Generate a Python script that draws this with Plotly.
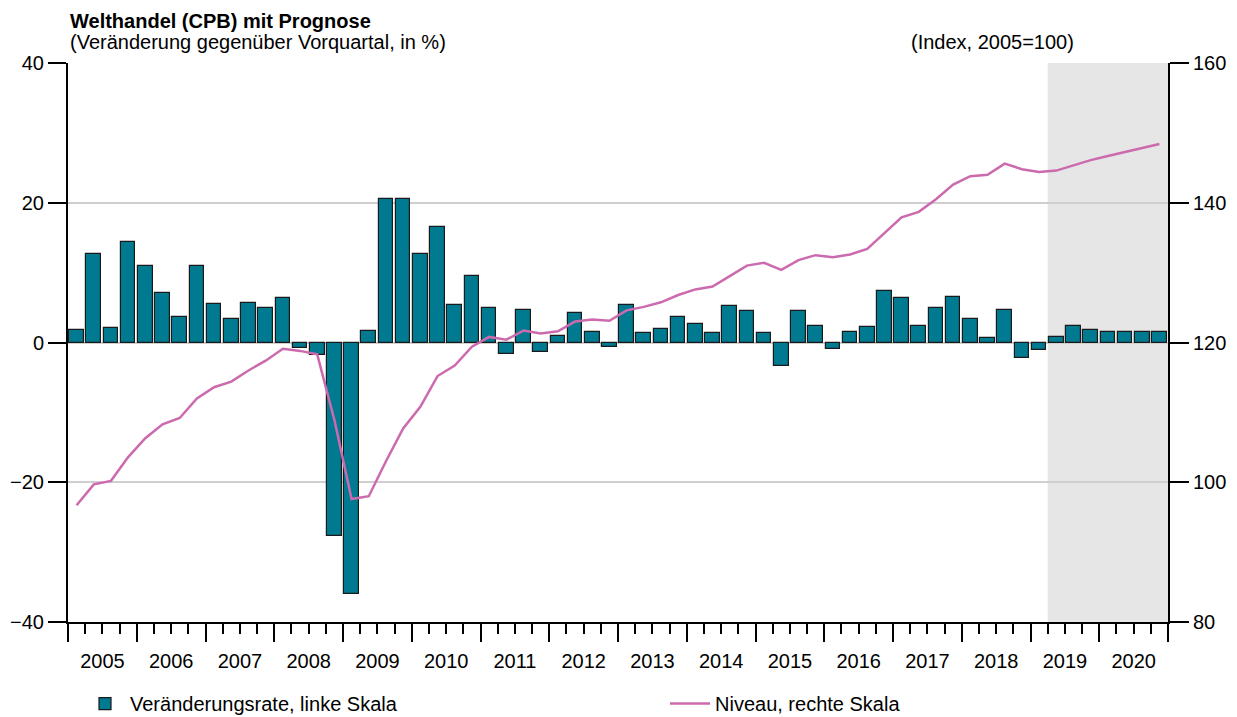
import plotly.graph_objects as go

years = list(range(2005, 2021))
quarters = [f"{y}Q{q}" for y in years for q in range(1, 5)]
forecast_start = "2019Q2"

change_rate = [1.8, 12.7, 2.1, 14.4, 11.0, 7.1, 3.7, 11.0, 5.5, 3.3, 5.6, 4.9,
               6.3, -0.8, -1.8, -27.7, -36.0, 1.7, 20.6, 20.6, 12.7, 16.5, 5.4, 9.5,
               5.0, -1.7, 4.6, -1.3, 1.0, 4.2, 1.5, -0.7, 5.3, 1.4, 2.0, 3.6,
               2.6, 1.3, 5.2, 4.5, 1.35, -3.4, 4.45, 2.4, -0.9, 1.45, 2.25, 7.35,
               6.4, 2.4, 5.0, 6.45, 3.4, 0.7, 4.6, -2.2, -1.1, 0.8, 2.3, 1.8,
               1.55, 1.55, 1.55, 1.55]

level = [96.7, 99.7, 100.2, 103.6, 106.3, 108.3, 109.2, 112.0, 113.6, 114.4, 116.0, 117.4,
         119.1, 118.8, 118.3, 108.9, 97.6, 98.0, 103.0, 107.7, 110.8, 115.2, 116.7, 119.4,
         120.8, 120.4, 121.7, 121.3, 121.6, 123.0, 123.3, 123.1, 124.6, 125.1, 125.75, 126.8,
         127.6, 128.0, 129.5, 131.0, 131.4, 130.4, 131.8, 132.5, 132.2, 132.6, 133.4, 135.6,
         137.9, 138.7, 140.5, 142.6, 143.8, 144.0, 145.6, 144.8, 144.4, 144.6, 145.4, 146.1,
         146.7, 147.3, 147.8, 148.4]

left_ticks = [-40, -20, 0, 20, 40]
right_ticks = [80, 100, 120, 140, 160]

xs = list(range(len(quarters)))
FONT = "Liberation Sans, Arial, Helvetica, sans-serif"
BAR = "#007A90"
LINE = "#CC6AAE"

fig = go.Figure()
fig.add_trace(go.Bar(
    x=xs, y=change_rate, name="Veränderungsrate, linke Skala",
    marker=dict(color=BAR, line=dict(color="#1a1a1a", width=1.2)),
    width=0.85, legend="legend",
))
fig.add_trace(go.Scatter(
    x=xs, y=level, yaxis="y2", mode="lines", name="Niveau, rechte Skala",
    line=dict(color=LINE, width=2.5), legend="legend2",
))
# helper trace so the overlay axis with the year-boundary ticks is drawn
fig.add_trace(go.Scatter(x=[None], y=[None], xaxis="x2", showlegend=False, hoverinfo="skip"))

fs = quarters.index(forecast_start)
fig.add_shape(type="rect", xref="x", yref="paper", x0=fs - 0.5, x1=len(quarters) - 0.5,
              y0=0, y1=1, fillcolor="#E6E6E6", line=dict(width=0), layer="below")

year_centers = [4 * i + 1.5 for i in range(len(years))]
year_bounds = [4 * i - 0.5 for i in range(len(years) + 1)]
quarter_bounds = [i - 0.5 for i in range(len(quarters) + 1)]

# the page body adds an 8px offset, so the figure is sized to fit inside the window
fig.update_layout(
    width=1229, height=709,
    margin=dict(l=60, r=69, t=55, b=95, autoexpand=False),
    paper_bgcolor="white", plot_bgcolor="white",
    font=dict(family=FONT, size=20, color="black"),
    bargap=0,
    xaxis=dict(
        range=[-0.5, len(quarters) - 0.5],
        tickmode="array", tickvals=year_centers, ticktext=[str(y) for y in years],
        ticks="", showgrid=False, zeroline=False, tickangle=0,
        showline=True, linecolor="black", linewidth=2,
        ticklabelstandoff=20, automargin=False,
        minor=dict(tickmode="array", tickvals=quarter_bounds, ticks="outside",
                   ticklen=10, tickwidth=1.5, tickcolor="black", showgrid=False),
        tickfont=dict(size=20),
    ),
    xaxis2=dict(
        overlaying="x", anchor="y", side="bottom",
        range=[-0.5, len(quarters) - 0.5],
        tickmode="array", tickvals=year_bounds, ticks="outside",
        ticklen=19, tickwidth=2, tickcolor="black", automargin=False,
        showticklabels=False, showgrid=False, zeroline=False, showline=False,
    ),
    yaxis=dict(
        range=[-40, 40], tickmode="array", tickvals=left_ticks,
        ticks="outside", ticklen=18, tickwidth=2, tickcolor="black",
        showline=True, linecolor="black", linewidth=2, automargin=False,
        showgrid=True, gridcolor="#CFCFCF", gridwidth=2, zeroline=False,
        tickfont=dict(size=20),
    ),
    yaxis2=dict(
        range=[80, 160], tickmode="array", tickvals=right_ticks,
        overlaying="y", side="right", anchor="x", automargin=False,
        ticks="outside", ticklen=19, tickwidth=2, tickcolor="black",
        showline=True, linecolor="black", linewidth=2,
        showgrid=False, zeroline=False, tickfont=dict(size=20),
    ),
    legend=dict(orientation="h", x=(80 - 68) / 1100, xanchor="left",
                y=-0.146, yanchor="middle", font=dict(size=20), itemwidth=40,
                bgcolor="rgba(0,0,0,0)"),
    legend2=dict(orientation="h", x=(665 - 68) / 1100, xanchor="left",
                 y=-0.146, yanchor="middle", font=dict(size=20), itemwidth=40,
                 bgcolor="rgba(0,0,0,0)"),
    showlegend=True,
    annotations=[
        dict(text="<b>Welthandel (CPB) mit Prognose</b>", xref="paper", yref="paper",
             x=0, y=1.076, xanchor="left", yanchor="middle", showarrow=False,
             font=dict(size=20)),
        dict(text="(Veränderung gegenüber Vorquartal, in %)", xref="paper", yref="paper",
             x=0, y=1.038, xanchor="left", yanchor="middle", showarrow=False,
             font=dict(size=20)),
        dict(text="(Index, 2005=100)", xref="paper", yref="paper",
             x=(1076 - 68) / 1100, y=1.038, xanchor="right", yanchor="middle",
             showarrow=False, font=dict(size=20)),
    ],
)

fig.write_html("out.html")
